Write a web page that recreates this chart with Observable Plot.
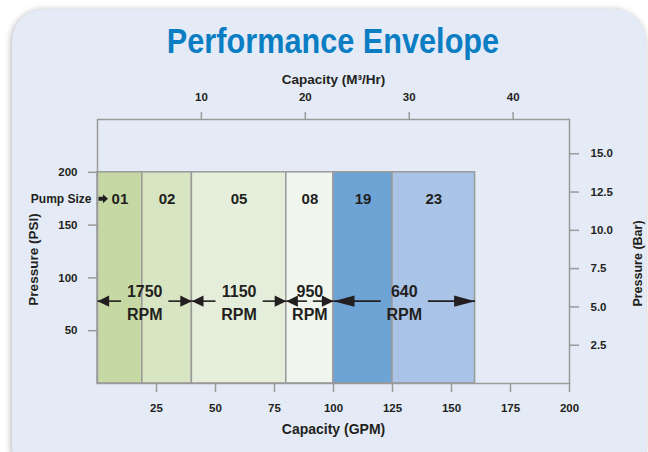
<!DOCTYPE html>
<html>
<head>
<meta charset="utf-8">
<script src="https://cdn.jsdelivr.net/npm/d3@7"></script>
<script src="https://cdn.jsdelivr.net/npm/@observablehq/plot@0.6"></script>
<style>
  html, body { margin: 0; padding: 0; background: #ffffff; }
  #wrap { position: relative; width: 648px; height: 452px; overflow: hidden; }
  #panel { position: absolute; left: 12px; top: 9px; width: 634px; height: 470px;
           background: #e4ebf6; border-radius: 32px; box-shadow: -1px 1px 6px rgba(0,0,0,0.3); }
  #title { position: absolute; left: 97px; width: 472px; top: 22px; text-align: center;
           font-family: "Liberation Sans", Arial, sans-serif; font-weight: bold;
           font-size: 35px; line-height: 37px; color: #0b7dc3; white-space: nowrap;
           transform: scaleX(0.876); transform-origin: 50% 50%; }
  #chart { position: absolute; left: 0; top: 60px; }
  #chart svg { background: transparent; }
</style>
</head>
<body>
<div id="wrap">
  <div id="panel"></div>
  <div id="title">Performance Envelope</div>
  <div id="chart"></div>
</div>
<script>
// ---- data ----
const pumpSizes = ["01", "02", "05", "08", "19", "23"];
const pumpGpmFrom = [0, 19, 40, 80, 100, 125];
const pumpGpmTo = [19, 40, 80, 100, 125, 160];
const pumpMaxPsi = [200, 200, 200, 200, 200, 200];

const rpmLabels = ["1750", "1150", "950", "640"];
const rpmGpmFrom = [0, 40, 80, 100];
const rpmGpmTo = [40, 80, 100, 160];
const rpmPsi = 78;

const gpmTicks = [25, 50, 75, 100, 125, 150, 175, 200];
const psiTicks = [50, 100, 150, 200];
const m3hTicks = [10, 20, 30, 40];
const barTicks = [2.5, 5.0, 7.5, 10.0, 12.5, 15.0];

const GPM_PER_M3H = 4.402868;
const PSI_PER_BAR = 14.5038;

// ---- styles ----
const pumpColors = ["#c6d9a4", "#d8e5c2", "#e5eeda", "#f0f6ed", "#6ea3d6", "#a9c4e6"];
const ink = "#231f20";
const gray = "#9a9a9a";
const font = "Liberation Sans, Arial, sans-serif";

const pumps = pumpSizes.map((s, i) => ({
  size: s, from: pumpGpmFrom[i], to: pumpGpmTo[i], psi: pumpMaxPsi[i], color: pumpColors[i]
}));

const rpms = rpmLabels.map((r, i) => {
  const from = rpmGpmFrom[i], to = rpmGpmTo[i], span = to - from;
  const gap = span >= 30 ? 20 : 2.5;
  const shaft = (span - gap) / 2;
  return { rpm: r, from, to, mid: (from + to) / 2, shaft, big: span >= 60 };
});
const heads = rpms.flatMap(d => [
  { x: d.from, dir: "left", big: d.big },
  { x: d.to, dir: "right", big: d.big }
]);
const shafts = rpms.flatMap(d => [
  { x1: d.from, x2: d.from + d.shaft },
  { x1: d.to - d.shaft, x2: d.to }
]);

function headSymbol(dir) {
  const s = dir === "right" ? 1 : -1;
  return {
    draw(ctx, size) {
      const r = Math.sqrt(size / Math.PI);
      const L = 2 * r, h = Math.min(r, 5.6);
      ctx.moveTo(0, 0);
      ctx.lineTo(-s * L, -h);
      ctx.lineTo(-s * L, h);
      ctx.closePath();
    }
  };
}
const pointer = {
  draw(ctx, size) {
    ctx.moveTo(0, -2);
    ctx.lineTo(4.5, -2);
    ctx.lineTo(4.5, -4.5);
    ctx.lineTo(9.5, 0);
    ctx.lineTo(4.5, 4.5);
    ctx.lineTo(4.5, 2);
    ctx.lineTo(0, 2);
    ctx.closePath();
  }
};

const headMarks = [];
for (const dir of ["left", "right"]) {
  for (const big of [false, true]) {
    headMarks.push(Plot.dot(heads.filter(d => d.dir === dir && d.big === big), {
      x: "x", y: () => rpmPsi, r: big ? 10.5 : 5.8, symbol: headSymbol(dir), fill: ink, stroke: "none"
    }));
  }
}

const axisText = { fontFamily: font, fontWeight: "bold", fontSize: 11.5, fill: ink, stroke: gray };

const chart = Plot.plot({
  width: 648,
  height: 392,
  marginTop: 59,
  marginBottom: 69,
  marginLeft: 97,
  marginRight: 79,
  style: { background: "transparent", fontFamily: font, color: ink },
  x: { domain: [0, 200] },
  y: { domain: [0, 250] },
  marks: [
    Plot.rect(pumps, { x1: "from", x2: "to", y1: 0, y2: "psi", fill: "color", stroke: gray, strokeWidth: 1.5 }),
    Plot.frame({ stroke: gray, strokeWidth: 1.5 }),
    Plot.axisX({ anchor: "bottom", ticks: gpmTicks, tickSize: 9, tickPadding: 11, label: null, ...axisText, strokeWidth: 1.5 }),
    Plot.axisX({ anchor: "top", ticks: m3hTicks.map(v => v * GPM_PER_M3H), tickFormat: d => String(Math.round(d / GPM_PER_M3H)),
      tickSize: 8, tickPadding: 11, label: null, ...axisText, strokeWidth: 1.5 }),
    Plot.axisY({ anchor: "left", ticks: psiTicks, tickSize: 9, tickPadding: 11, label: null, ...axisText, strokeWidth: 1.5 }),
    Plot.axisY({ anchor: "right", ticks: barTicks.map(b => b * PSI_PER_BAR), tickFormat: d => (d / PSI_PER_BAR).toFixed(1),
      tickSize: 9, tickPadding: 12, label: null, ...axisText, strokeWidth: 1.5 }),
    // axis titles
    Plot.text(["Capacity (GPM)"], { frameAnchor: "bottom", dy: 50, text: d => d, fontSize: 14, fontWeight: "bold", fill: ink }),
    Plot.text(["Capacity (M³/Hr)"], { frameAnchor: "top", dy: -45, text: d => d, fontSize: 13.5, fontWeight: "bold", fill: ink }),
    Plot.text(["Pressure (PSI)"], { frameAnchor: "left", dx: -64, dy: 8, text: d => d, rotate: -90, textAnchor: "middle", fontSize: 13.5, fontWeight: "bold", fill: ink }),
    Plot.text(["Pressure (Bar)"], { frameAnchor: "right", dx: 68, dy: 12, text: d => d, rotate: -90, textAnchor: "middle", fontSize: 12.5, fontWeight: "bold", fill: ink }),
    // pump size labels
    Plot.text(pumps, { x: d => (d.from + d.to) / 2, y: () => 175, text: "size", fontSize: 15, fontWeight: "bold", fill: ink }),
    Plot.text(["Pump Size"], { x: () => pumpGpmFrom[0], y: () => 175, text: d => d, textAnchor: "end", dx: -6, fontSize: 12, fontWeight: "bold", fill: ink }),
    Plot.dot(["Pump Size"], { x: () => pumpGpmFrom[0], y: () => 175, dx: 1, r: 4, symbol: pointer, fill: ink, stroke: "none" }),
    // RPM arrows
    Plot.link(shafts, { x1: "x1", x2: "x2", y1: () => rpmPsi, y2: () => rpmPsi, stroke: ink, strokeWidth: 1.6 }),
    ...headMarks,
    Plot.text(rpms, { x: "mid", y: () => rpmPsi, text: d => d.rpm + "\nRPM", lineHeight: 1.42, fontSize: 16, fontWeight: "bold", fill: ink })
  ]
});
document.getElementById("chart").appendChild(chart);
</script>
</body>
</html>
